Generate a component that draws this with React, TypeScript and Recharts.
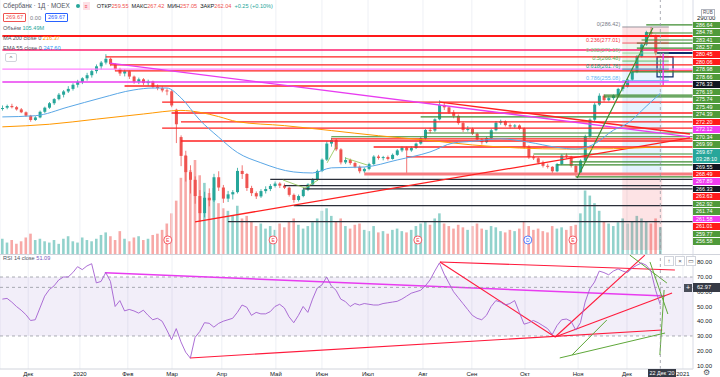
import React from "react";
import {
  ComposedChart,
  Bar,
  Line,
  XAxis,
  YAxis,
  CartesianGrid,
  Cell,
  ReferenceLine,
  ReferenceArea,
  ReferenceDot,
} from "recharts";

// daily-ish candles, Nov 2019 .. 22 Dec 2020: [open, high, low, close]
const candles: [number, number, number, number][] = [
  [238.5, 240.5, 237.5, 239], [239.2, 241, 238.3, 240.2], [240.2, 241.5, 238.8, 239.5], [239.5, 240.2, 237.5, 238.2],
  [238.2, 239, 236, 236.5], [236.5, 237, 233.8, 234.5], [234.5, 235, 231, 232], [232, 234.2, 231.5, 233.5],
  [233.5, 237.5, 233, 236.8], [236.8, 239.8, 236, 239.2], [239.2, 242.5, 238.5, 241.8], [241.8, 244.8, 240.8, 244.2],
  [244.2, 247.8, 243.5, 246.8], [246.8, 249.5, 245.2, 248.7], [248.7, 251.8, 247.8, 250.2], [250.2, 253.5, 249.2, 252.6],
  [252.6, 255.5, 251, 254.3], [254.3, 257, 253, 256.4], [256.4, 259.6, 255, 258.2], [258.2, 261.5, 256.8, 260.6],
  [260.6, 264.5, 259.2, 263.4], [263.4, 266.5, 261.5, 265.6], [265.6, 270.5, 264.5, 267.8], [267.8, 268.5, 263.5, 264.6],
  [264.6, 265.2, 260.5, 261.8], [261.8, 262.5, 257.8, 259.2], [259.2, 261.8, 257.5, 260.5], [260.5, 261, 256, 257.4],
  [257.4, 258, 253.2, 254.4], [254.4, 256.8, 253, 255.8], [255.8, 256.5, 252.5, 253.6], [253.6, 255.6, 252, 254.5],
  [254.5, 255, 250.5, 251.4], [251.4, 252.8, 249.4, 250.6], [250.6, 251.8, 248.2, 249.3], [249.3, 250.5, 246.5, 248.8],
  [248.8, 249.5, 239.5, 240.5], [238, 238.6, 218.5, 229.5], [222, 223, 205, 211], [211, 214, 196, 201.5],
  [201.5, 205.5, 189, 197], [197, 199, 183, 187.5], [187.5, 191, 172.5, 177.5], [177.5, 190, 175, 186.5],
  [186.5, 192, 181.5, 185], [185, 200.5, 184, 198.5], [198.5, 202, 190.5, 192.5], [192.5, 194, 183.5, 186],
  [186, 190.5, 184, 188.5], [188.5, 191, 185.5, 189.8], [189.8, 204, 189, 202.2], [202.2, 205.5, 197.5, 200.4],
  [200.4, 201, 190.5, 192.2], [192.2, 193.5, 187.5, 189.2], [189.2, 190.2, 185.8, 187.3], [187.3, 191.5, 186.4, 190.4],
  [190.4, 193.2, 189, 191.6], [191.6, 194.5, 190.4, 193.4], [193.4, 196, 192.5, 194.8], [194.8, 195.6, 192.2, 193.6],
  [193.6, 194.8, 191.6, 192.4], [192.4, 193, 187.2, 188.2], [188.2, 189, 183.6, 185.2], [185.2, 188.4, 184.3, 187.5],
  [187.5, 192, 186.8, 191.2], [191.2, 195, 190.4, 194.3], [194.3, 198, 193.6, 197.2], [197.2, 203, 196.5, 202.2],
  [202.2, 209.5, 201.5, 208.8], [208.8, 219.5, 208, 218.2], [218.2, 221.6, 216.4, 220.2], [220.2, 221, 213.8, 214.8],
  [214.8, 215.5, 206, 207.2], [207.2, 210.2, 206.2, 208.6], [208.6, 209.4, 205.8, 206.8], [206.8, 207.5, 203.8, 204.6],
  [204.6, 205.4, 200.8, 202], [202, 204.2, 201, 203.4], [203.4, 207, 202.6, 206.2], [206.2, 211.4, 205.6, 210.6],
  [210.6, 211.6, 208.8, 209.8], [209.8, 211, 208.4, 210.3], [210.3, 211.2, 208.3, 209.2], [209.2, 212.4, 208.8, 211.6],
  [211.6, 215, 211, 214.2], [214.2, 216.6, 213.2, 215.8], [215.8, 216.4, 201, 214.2], [214.2, 216.5, 213.4, 215.6],
  [215.6, 218.8, 215, 218.2], [218.2, 222, 217.5, 221.2], [221.2, 226.8, 220.5, 226.2], [226.2, 227.4, 224.2, 225.8],
  [225.8, 233, 225, 232.4], [232.4, 243.5, 231.8, 240.8], [240.8, 242.4, 237.8, 239.4], [239.4, 240, 235.5, 236.4],
  [236.4, 237.8, 233, 234.4], [234.4, 235.2, 229.2, 230.2], [230.2, 231, 225, 226.2], [226.2, 228.4, 225.2, 226.8],
  [226.8, 227.5, 223.2, 224], [224, 224.6, 219.8, 220.6], [220.6, 221.4, 217.6, 219], [219, 222.2, 218.4, 221.4],
  [221.4, 226.8, 220.8, 226], [226, 231.4, 225.4, 230.4], [230.4, 232.2, 229.2, 231.2], [231.2, 231.8, 228.2, 229],
  [229, 230, 227, 228.2], [228.2, 229.6, 227.2, 228.8], [228.8, 229.4, 226.2, 227], [227, 227.6, 215.2, 216.4],
  [216.4, 217.2, 209.2, 210.2], [210.2, 211.6, 208.6, 209.6], [209.6, 210.2, 206.2, 207], [207, 208.2, 204.2, 205.2],
  [205.2, 206.4, 203.6, 204.6], [204.6, 205, 200.8, 202], [202, 206.8, 201.4, 206.2], [206.2, 212, 205.6, 211.2],
  [211.2, 212.4, 209.4, 210.6], [210.6, 211, 204.2, 205.2], [205.2, 206, 198.8, 201.2], [201.2, 209, 200.6, 208.2],
  [208.2, 223.4, 207.6, 222.4], [222.4, 233, 221.6, 232.2], [232.2, 242.2, 231.4, 241], [241, 247.6, 240.2, 246.2],
  [246.2, 247, 242.6, 243.6], [243.6, 245.8, 242.8, 244.8], [244.8, 247, 243.8, 246.4], [246.4, 250.8, 245.6, 250.2],
  [250.2, 252.6, 248.8, 251.6], [251.6, 256.4, 251, 255.6], [255.6, 261, 254.8, 260.2], [260.2, 270, 259.4, 269.2],
  [269.2, 277, 268.6, 276.2], [276.2, 284.2, 275.4, 283.4], [283.4, 286.42, 281.5, 282.6], [281, 282, 269.8, 271],
  [259.55, 267.42, 257.05, 262.04],
];

// volume, millions
const volumes = [
  60, 45, 55, 40, 50, 65, 80, 55, 60, 50, 45, 55, 40, 60, 70, 50, 45, 65, 55, 50, 60, 75, 85, 70, 55, 90, 60, 50, 65, 70,
  55, 60, 75, 80, 95, 120, 160, 210, 300, 390, 330, 370, 310, 280, 240, 260, 200, 180, 170, 150, 190, 140, 150, 130, 110,
  120, 100, 110, 95, 120, 105, 130, 140, 115, 100, 110, 125, 140, 170, 180, 150, 130, 140, 110, 100, 115, 120, 95, 90, 110,
  85, 90, 80, 95, 100, 90, 85, 95, 110, 120, 130, 115, 140, 160, 120, 110, 100, 115, 105, 95, 110, 120, 100, 95, 110, 105,
  90, 85, 95, 90, 100, 130, 110, 95, 100, 90, 85, 110, 100, 105, 95, 110, 115, 160, 250, 230, 200, 170, 130, 120, 110, 125,
  140, 120, 130, 150, 140, 130, 120, 140, 105.49,
];

const rsiValues = [
  55, 55.5, 53, 50, 47.5, 44.5, 40.5, 41, 49, 57, 61.5, 64, 68, 70, 70, 73, 77, 75, 77.5, 79, 66, 67, 73, 67, 50, 54, 47,
  48, 47, 45.5, 47.5, 44, 41, 42, 40, 34, 27.5, 35, 26, 19, 15, 29, 33, 39, 38.6, 36, 38.5, 40, 41, 42, 46, 51, 49.5, 44,
  46, 45, 45, 46.5, 50, 51.5, 49, 43, 39, 44, 50, 46, 55, 62.5, 64.6, 70, 64, 61, 55, 53.3, 50, 52, 51, 52, 51.5, 51, 51,
  52, 52.5, 53, 53.5, 55, 57, 59, 60, 61, 64, 68, 74, 79.5, 72, 66, 60, 56, 52, 48, 44, 42, 41, 44, 50, 54, 53, 51, 52, 54,
  46, 38, 39, 40.5, 39, 37, 35, 31, 37, 41, 41.5, 40, 34, 39, 53, 62, 66.6, 74, 73, 71.5, 74, 75.5, 74, 73, 76, 78, 79.5,
  78, 74, 61, 51.09,
];

// [candle index, value]
const ma200Points: [number, number][] = [
  [0, 228], [10, 229.5], [20, 232.5], [30, 235.5], [38, 237.6], [42, 236.5], [46, 234], [50, 231], [60, 228.7],
  [70, 225.8], [80, 222.8], [90, 220.3], [100, 217.4], [110, 215.6], [120, 215], [130, 215.2], [140, 216.37],
];
const ema55Points: [number, number][] = [
  [0, 233.8], [7, 234.5], [14, 239.6], [21, 244.9], [28, 249.6], [32, 250.7], [35, 250.7], [38, 245], [42, 232],
  [46, 222], [50, 213], [55, 207], [62, 201.6], [66, 201], [70, 204], [77, 204.5], [84, 208.6], [91, 213.3],
  [96, 218.6], [100, 219.5], [106, 221], [112, 219], [118, 216], [122, 215], [126, 218], [130, 226], [133, 230],
  [137, 240], [140, 247.6],
];

const monthTicks = [5.5, 16.5, 26.7, 36.1, 46.7, 58.2, 68, 77.8, 89.5, 99.9, 111.2, 122.5, 132.9, 144.8];
const monthLabels = ["Дек", "2020", "Фев", "Мар", "Апр", "Май", "Июн", "Июл", "Авг", "Сен", "Окт", "Ноя", "Дек", "2021"];

// horizontal levels: [from candle, price, kind]
const levels: [number, number, string][] = [
  [0, 281.1, "redBold"], [0, 273.0, "crimson"], [22, 268.9, "red"], [23, 264.2, "red"], [0, 261.8, "pink"],
  [24, 260.7, "red"], [0, 254.2, "magenta"], [26, 251.9, "red"], [34, 242.5, "red"], [36, 236.1, "red"],
  [89, 233.8, "green"], [38, 230.9, "red"], [34, 227.3, "red"], [90, 224.4, "green"], [70, 222.2, "green"],
  [70, 220.9, "red"], [38, 219.7, "red"], [79, 216.2, "red"], [113, 212.1, "green"], [86, 210.4, "red"],
  [121, 207.5, "green"], [118, 205.7, "green"], [77, 200.4, "salmon"], [122, 198.7, "green"], [57, 197.3, "black"],
  [60, 193.6, "black"], [64, 191.7, "black"], [62, 181.9, "black"], [48, 172.5, "black"], [137, 287.6, "green"],
  [137, 282.9, "green"], [136, 278.8, "green"], [135, 277.0, "green"], [135, 274.1, "green"], [134, 260.1, "green"],
  [128, 246.6, "green"], [128, 245.5, "green"], [139.3, 271.2, "navy"],
];

// trend lines on price: [i1, p1, i2, p2, kind]
const priceTrends: [number, number, number, number, string][] = [
  [22.9, 265.3, 146.3, 222.1, "magenta"],
  [41.0, 172.4, 146.3, 221.5, "red"],
  [93.1, 242.5, 146.3, 223.8, "red"],
  [122.3, 198.1, 138.4, 285.8, "green"],
  [59.7, 196.9, 64.4, 192.2, "olive"],
  [64.4, 192.2, 67.2, 196.9, "olive"],
  [69.1, 206.9, 71.2, 217.4, "olive"],
  [72.9, 209.8, 77.6, 205.7, "olive"],
  [140.6, 271.2, 140.6, 252.5, "magenta"],
];

const fibLevels: [string, number][] = [
  ["0", 286.42], ["0.236", 277.01], ["0.382", 271.19], ["0.5", 266.48], ["0.618", 261.76], ["0.786", 255.08],
];
const fibColors = ["#787b86", "#f23645", "#81c784", "#4caf50", "#089981", "#64b5f6"];

// earnings / dividend flags: [candle index, letter]
const events: [number, string][] = [[35.2, "E"], [57.6, "E"], [88.4, "E"], [111.8, "D"], [121.4, "E"]];

// stacked price tags on the right axis
const tags: [string, string][] = [
  ["286.64", "g"], ["284.78", "g"], ["283.41", "g"], ["282.57", "g"], ["280.45", "r"], ["280.06", "r"],
  ["278.98", "g"], ["278.66", "g"], ["276.33", "k"], ["276.19", "g"], ["275.74", "g"], ["275.49", "g"],
  ["274.39", "g"], ["272.20", "r"], ["272.12", "m"], ["270.34", "g"], ["269.99", "g"], ["269.67", "t"],
  ["03:28:10", "t"], ["269.55", "k"], ["268.49", "r"], ["267.89", "m"], ["266.33", "k"], ["263.63", "r"],
  ["262.92", "g"], ["261.74", "g"], ["261.58", "m"], ["261.01", "r"], ["259.77", "g"], ["256.58", "g"],
];

// RSI drawings: [i1, r1, i2, r2, kind]
const rsiTrends: [number, number, number, number, string][] = [
  [21.8, 72.9, 141, 57.1, "magenta"],
  [93.1, 80.2, 143.1, 74.7, "red"],
  [93.1, 80.2, 117.6, 29.3, "red"],
  [117.6, 29.3, 136.7, 84.9, "red"],
  [117.6, 29.3, 142.5, 59.2, "red"],
  [39.9, 15.1, 140.4, 34.1, "red"],
  [133.5, 84.9, 141.4, 65.9, "green"],
  [137.8, 80.2, 141.6, 44.9, "green"],
  [140.8, 61.2, 139.9, 17.1, "green"],
  [121.2, 17.1, 128.6, 40.8, "green"],
  [118.6, 15.1, 141, 32.0, "green"],
];

const UP = "#26a69a";
const DOWN = "#ef5350";
const FONT = '"Liberation Sans", Arial, sans-serif';
const X_DOMAIN: [number, number] = [-0.5, 146.95];
const PRICE_DOMAIN: [number, number] = [153.6, 302.2];
const RSI_DOMAIN: [number, number] = [7.6, 85.6];
const EVENT_PRICE = 161.8;

const lineStyle: Record<string, { stroke: string; w: number }> = {
  redBold: { stroke: "#ff1a1a", w: 2 },
  crimson: { stroke: "#ff1f6e", w: 1.5 },
  red: { stroke: "#ff2020", w: 1.3 },
  salmon: { stroke: "#f77c80", w: 3 },
  pink: { stroke: "#ff80ff", w: 1.2 },
  magenta: { stroke: "#e83cf0", w: 1.4 },
  green: { stroke: "#3d8b2f", w: 1.2 },
  olive: { stroke: "#8bc34a", w: 0.8 },
  black: { stroke: "#2a2e39", w: 1.3 },
  navy: { stroke: "#0d2a6b", w: 2 },
};
const tagColor: Record<string, string> = {
  g: "#4f9a3a",
  r: "#ff1a1a",
  m: "#f03cf0",
  k: "#131722",
  t: "#26a69a",
};

const rows = candles.map(([o, h, l, c], i) => ({
  i,
  o,
  h,
  l,
  c,
  hl: [l, h],
  vol: volumes[i],
  up: c >= o,
  rsi: rsiValues[i],
}));
const maData = ma200Points.map(([i, v]) => ({ i, v }));
const emaData = ema55Points.map(([i, v]) => ({ i, v }));

const Candle = (props: any) => {
  const { x, y, width, height, payload } = props;
  if (!payload) return null;
  const { o, h, l, c } = payload;
  const top = Math.min(y, y + height);
  const span = Math.abs(height);
  const k = h > l ? span / (h - l) : 0;
  const bodyTop = top + (h - Math.max(o, c)) * k;
  const bodyH = Math.max(1, Math.abs(o - c) * k);
  const color = c >= o ? UP : DOWN;
  const cx = x + width / 2;
  return (
    <g>
      <line x1={cx} x2={cx} y1={top} y2={top + span} stroke={color} strokeWidth={0.8} />
      <rect x={x} y={bodyTop} width={width} height={bodyH} fill={color} />
    </g>
  );
};

const FibLabel = (props: any) => {
  const { viewBox, text, color } = props;
  if (!viewBox) return null;
  return (
    <text x={viewBox.x - 2} y={viewBox.y - 1} fontSize={5.5} fill={color} textAnchor="end">
      {text}
    </text>
  );
};

const seg = (i1: number, p1: number, i2: number, p2: number) => [
  { x: i1, y: p1 },
  { x: i2, y: p2 },
];

function VolumeLayer() {
  return (
    <ComposedChart width={720} height={254} data={rows} margin={{ top: 0, right: 27, left: 0, bottom: 0 }}>
      <XAxis dataKey="i" type="number" domain={X_DOMAIN} hide allowDataOverflow />
      <YAxis domain={[0, 1000]} hide />
      <Bar dataKey="vol" barSize={2.6} isAnimationActive={false}>
        {rows.map((r) => (
          <Cell key={r.i} fill={r.up ? UP : DOWN} fillOpacity={0.5} />
        ))}
      </Bar>
    </ComposedChart>
  );
}

function PriceLayer() {
  return (
    <ComposedChart width={720} height={254} data={rows} margin={{ top: 0, right: 0, left: 0, bottom: 0 }}>
      <CartesianGrid stroke="#eef0f5" horizontal={false} />
      <XAxis dataKey="i" type="number" domain={X_DOMAIN} ticks={monthTicks} hide allowDataOverflow />
      <YAxis
        orientation="right"
        width={27}
        type="number"
        domain={PRICE_DOMAIN}
        allowDataOverflow
        ticks={[290]}
        tickFormatter={(v: number) => v.toFixed(2)}
        tick={{ fontSize: 6, fill: "#131722", dy: -2.5 }}
        tickLine={false}
        tickSize={0}
        tickMargin={4}
        axisLine={{ stroke: "#e0e3eb" }}
      />

      {/* fib fills and long-position boxes */}
      {fibLevels.slice(1).map(([r, p], k) => (
        <ReferenceArea
          key={"ff" + r}
          x1={131.9}
          x2={141.8}
          y1={fibLevels[k][1]}
          y2={p}
          fill={fibColors[k + 1]}
          fillOpacity={0.14}
          stroke="none"
          ifOverflow="hidden"
        />
      ))}
      <ReferenceArea x1={131.9} x2={140.4} y1={198.1} y2={255.08} fill="#2196f3" fillOpacity={0.12} stroke="none" ifOverflow="hidden" />
      <ReferenceArea x1={131.9} x2={140.4} y1={156} y2={198.1} fill="#f23645" fillOpacity={0.14} stroke="none" ifOverflow="hidden" />

      {levels.map(([from, p, kind], k) => (
        <ReferenceLine
          key={"lv" + k}
          segment={seg(from, p, X_DOMAIN[1], p)}
          stroke={lineStyle[kind].stroke}
          strokeWidth={lineStyle[kind].w}
          ifOverflow="hidden"
        />
      ))}
      {priceTrends.map(([a, p1, b, p2, kind], k) => (
        <ReferenceLine
          key={"pt" + k}
          segment={seg(a, p1, b, p2)}
          stroke={lineStyle[kind].stroke}
          strokeWidth={lineStyle[kind].w}
          ifOverflow="hidden"
        />
      ))}
      {fibLevels.map(([r, p], k) => (
        <ReferenceLine
          key={"fb" + r}
          segment={seg(131.9, p, 141.8, p)}
          stroke={fibColors[k]}
          strokeWidth={0.8}
          ifOverflow="hidden"
          label={<FibLabel text={`${r}(${p.toFixed(2)})`} color={fibColors[k]} />}
        />
      ))}
      <ReferenceArea x1={139.3} x2={142.7} y1={257.2} y2={268.9} fill="none" stroke="#0d2a6b" strokeWidth={1.2} ifOverflow="hidden" />

      <Line data={maData} dataKey="v" type="monotone" stroke="#ff9800" strokeWidth={1} dot={false} activeDot={false} isAnimationActive={false} />
      <Line data={emaData} dataKey="v" type="monotone" stroke="#5aa7e6" strokeWidth={1} dot={false} activeDot={false} isAnimationActive={false} />
      <Bar dataKey="hl" barSize={3} shape={(p: any) => <Candle {...p} />} isAnimationActive={false} />

      {events.map(([i, letter]) => {
        const col = letter === "D" ? "#2962ff" : "#f23645";
        return (
          <ReferenceDot
            key={"ev" + i}
            x={i}
            y={EVENT_PRICE}
            r={4}
            fill="#ffffff"
            stroke={col}
            strokeWidth={0.8}
            ifOverflow="visible"
            label={{ value: letter, position: "center", fontSize: 5, fill: col }}
          />
        );
      })}
      <ReferenceLine x={140} stroke="#9598a1" strokeDasharray="3 3" strokeWidth={0.8} />
    </ComposedChart>
  );
}

function RsiPane() {
  const rsiStyle: Record<string, { stroke: string; w: number }> = {
    magenta: { stroke: "#e83cf0", w: 1.5 },
    red: { stroke: "#ff1a3c", w: 1.1 },
    green: { stroke: "#5fa83a", w: 1 },
  };
  return (
    <ComposedChart width={720} height={123} data={rows} margin={{ top: 0, right: 0, left: 0, bottom: 0 }}>
      <CartesianGrid stroke="#eef0f5" horizontal={false} />
      <XAxis
        dataKey="i"
        type="number"
        domain={X_DOMAIN}
        allowDataOverflow
        ticks={monthTicks}
        interval={0}
        tickFormatter={(v: number) => monthLabels[monthTicks.indexOf(v)] ?? ""}
        height={8}
        tick={{ fontSize: 6, fill: "#131722" }}
        tickLine={false}
        tickSize={0}
        tickMargin={3}
        axisLine={{ stroke: "#d1d4dc" }}
      />
      <YAxis
        orientation="right"
        width={27}
        type="number"
        domain={RSI_DOMAIN}
        allowDataOverflow
        ticks={[10, 20, 30, 40, 50, 60, 70, 80]}
        tickFormatter={(v: number) => v.toFixed(2)}
        tick={{ fontSize: 6, fill: "#131722" }}
        tickLine={false}
        tickSize={0}
        tickMargin={4}
        axisLine={{ stroke: "#e0e3eb" }}
      />
      <ReferenceArea y1={30} y2={70} fill="#7e57c2" fillOpacity={0.1} stroke="none" />
      <ReferenceLine y={70} stroke="#9598a1" strokeDasharray="3 3" strokeWidth={0.8} />
      <ReferenceLine y={30} stroke="#9598a1" strokeDasharray="3 3" strokeWidth={0.8} />
      {rsiTrends.map(([a, r1, b, r2, kind], k) => (
        <ReferenceLine
          key={"rt" + k}
          segment={seg(a, r1, b, r2)}
          stroke={rsiStyle[kind].stroke}
          strokeWidth={rsiStyle[kind].w}
          ifOverflow="hidden"
        />
      ))}
      <Line dataKey="rsi" type="linear" stroke="#a35fd0" strokeWidth={0.9} dot={false} activeDot={false} isAnimationActive={false} />
      <ReferenceLine y={62.97} stroke="#9598a1" strokeDasharray="3 3" strokeWidth={0.8} />
      <ReferenceLine x={140} stroke="#9598a1" strokeDasharray="3 3" strokeWidth={0.8} />
    </ComposedChart>
  );
}

const abs = (left: number, top: number, extra: React.CSSProperties = {}): React.CSSProperties => ({
  position: "absolute",
  left,
  top,
  whiteSpace: "nowrap",
  ...extra,
});

export default function App() {
  const last = candles[candles.length - 1];
  const ohlcNames = ["ОТКР", "МАКС", "МИН", "ЗАКР"];
  const tagH = 7.48;
  return (
    <div
      style={{
        position: "absolute",
        left: 0,
        top: 0,
        width: 720,
        height: 377,
        background: "#ffffff",
        overflow: "hidden",
        fontFamily: FONT,
        color: "#131722",
      }}
    >
      <div style={abs(0, 0)}>
        <VolumeLayer />
      </div>
      <div style={abs(0, 0)}>
        <PriceLayer />
      </div>
      <div style={abs(0, 254)}>
        <RsiPane />
      </div>
      <div style={abs(0, 253.5, { width: 720, height: 1, background: "#d1d4dc" })} />

      {/* legend */}
      <div style={abs(3, 2, { fontSize: 6.4, lineHeight: "8px", display: "flex", alignItems: "center" })}>
        <span style={{ color: "#50535e" }}>Сбербанк · 1Д · MOEX</span>
        <span style={{ marginLeft: 6, width: 4, height: 4, borderRadius: 2, background: UP, display: "inline-block" }} />
        <span style={{ marginLeft: 3, padding: "0 2px", background: "#fde0e6", color: "#f23645", fontSize: 5 }}>≡</span>
        <span style={{ marginLeft: 7, fontSize: 5.6 }}>
          {ohlcNames.map((n, k) => (
            <span key={n} style={{ marginRight: 3 }}>
              {n}
              <span style={{ color: DOWN }}>{last[k].toFixed(2)}</span>
            </span>
          ))}
          <span style={{ color: UP }}>+0.25 (+0.10%)</span>
        </span>
      </div>
      <div style={abs(3, 13, { fontSize: 5.6, display: "flex", alignItems: "center" })}>
        <span style={{ border: "1px solid #ef5350", color: DOWN, padding: "0 2px", lineHeight: "7px", borderRadius: 1 }}>269.67</span>
        <span style={{ margin: "0 4px", color: "#787b86" }}>0.00</span>
        <span style={{ border: "1px solid #2962ff", color: "#2962ff", padding: "0 2px", lineHeight: "7px", borderRadius: 1 }}>269.67</span>
      </div>
      <div style={abs(3, 24.5, { fontSize: 5.6, lineHeight: "7px" })}>
        <span style={{ color: "#50535e" }}>Объём </span>
        <span style={{ color: UP }}>105.49M</span>
      </div>
      <div style={abs(3, 34.5, { fontSize: 5.6, lineHeight: "7px" })}>
        <span style={{ color: "#50535e" }}>MA 200 close 0 </span>
        <span style={{ color: "#ff9800" }}>216.37</span>
      </div>
      <div style={abs(3, 44.5, { fontSize: 5.6, lineHeight: "7px" })}>
        <span style={{ color: "#50535e" }}>EMA 55 close 0 </span>
        <span style={{ color: "#2196f3" }}>247.60</span>
      </div>
      <div
        style={abs(5, 53, {
          width: 10,
          height: 7,
          border: "1px solid #d1d4dc",
          borderRadius: 2,
          fontSize: 6,
          lineHeight: "8px",
          textAlign: "center",
          background: "#fff",
          color: "#50535e",
        })}
      >
        ^
      </div>
      <div style={abs(3, 255, { fontSize: 5.6, lineHeight: "7px" })}>
        <span style={{ color: "#50535e" }}>RSI 14 close </span>
        <span style={{ color: "#7e57c2" }}>51.09</span>
      </div>

      {/* right axis price tags */}
      <div style={abs(693, 21.6, { width: 27 })}>
        {tags.map(([t, kind], k) => (
          <div
            key={k}
            style={{
              height: tagH,
              background: tagColor[kind],
              color: "#ffffff",
              fontSize: 5.4,
              lineHeight: `${tagH}px`,
              paddingLeft: 3,
              borderBottom: kind === "t" && t.includes(".") ? "none" : "0.5px solid #ffffff",
              boxSizing: "border-box",
            }}
          >
            {t}
          </div>
        ))}
      </div>
      <div
        style={abs(701, 9, {
          fontSize: 4.6,
          border: "0.5px solid #b2b5be",
          padding: "0 1px",
          lineHeight: "6px",
          color: "#50535e",
          background: "#fff",
        })}
      >
        RUB
      </div>

      {/* crosshair labels */}
      <div style={abs(693, 283, { width: 27, height: 9, background: "#363a45", color: "#fff", fontSize: 5.6, lineHeight: "9px", paddingLeft: 4, boxSizing: "border-box" })}>
        62.97
      </div>
      <div style={abs(684, 283.5, { width: 8, height: 8, background: "#4a4e59", color: "#fff", fontSize: 7, lineHeight: "8px", textAlign: "center" })}>
        +
      </div>
      <div style={abs(648, 369, { width: 28, height: 8, background: "#363a45", color: "#fff", fontSize: 5.4, lineHeight: "8px", textAlign: "center" })}>
        22 Дек '20
      </div>
      <div style={abs(664, 256, { display: "flex", gap: 1 })}>
        {["↑", "×", "▭"].map((s) => (
          <span
            key={s}
            style={{
              width: 8,
              height: 8,
              border: "0.5px solid #d1d4dc",
              background: "#fff",
              fontSize: 6,
              lineHeight: "8px",
              textAlign: "center",
              color: "#50535e",
            }}
          >
            {s}
          </span>
        ))}
      </div>
      <div style={abs(703, 368, { fontSize: 8, color: "#50535e", fontFamily: '"DejaVu Sans", sans-serif' })}>⚙</div>
    </div>
  );
}
